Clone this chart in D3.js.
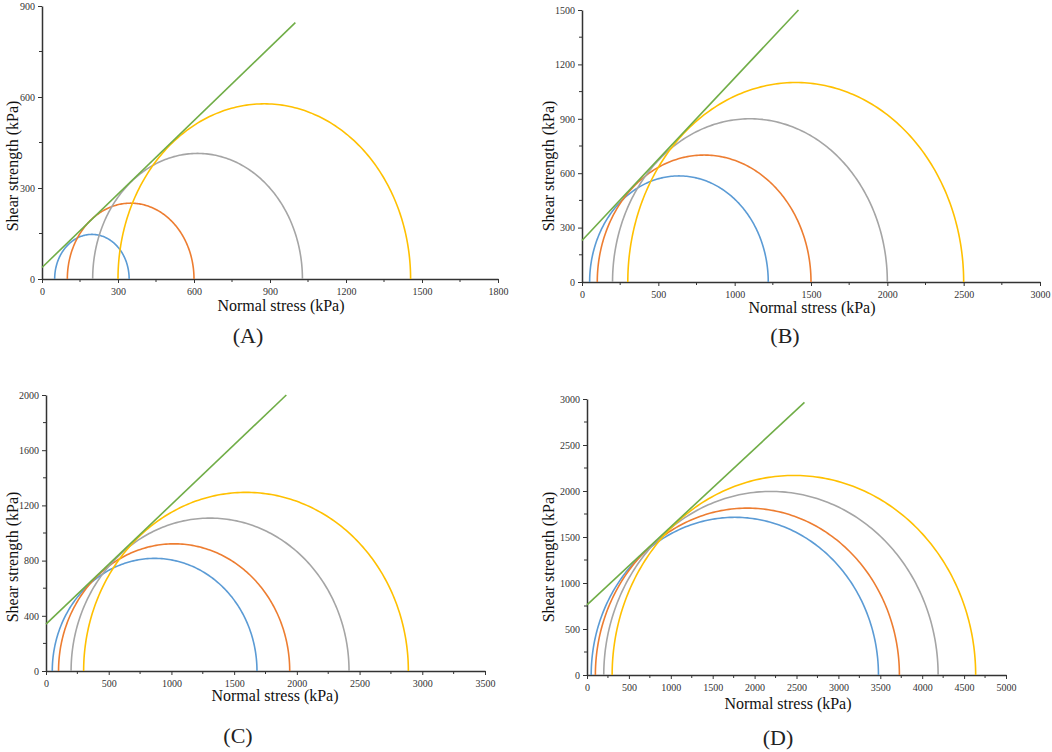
<!DOCTYPE html>
<html>
<head>
<meta charset="utf-8">
<script src="https://cdn.jsdelivr.net/npm/d3@7"></script>
<style>
  body { margin: 0; background: #fff; }
  svg { display: block; }
</style>
</head>
<body>
<svg id="chart" width="1052" height="752"></svg>
<script>
// Mohr circles: minor / major principal stress (kPa) for each of the four tests
const circleColors = ["#5B9BD5", "#ED7D31", "#A5A5A5", "#FFC000"];
const envelopeColor = "#70AD47";
const serif = "'Liberation Serif', 'Times New Roman', serif";

const sigma3A = [50, 100, 200, 300];
const sigma1A = [344, 600, 1028, 1455];
const envelopeA = [[0, 38], [1000, 845]];

const sigma3B = [50, 100, 200, 300];
const sigma1B = [1220, 1500, 2000, 2500];
const envelopeB = [[0, 229], [1418, 1500]];

const sigma3C = [50, 100, 200, 300];
const sigma1C = [1682, 1943, 2416, 2889];
const envelopeC = [[0, 340], [1916, 2000]];

const sigma3D = [50, 100, 200, 300];
const sigma1D = [3478, 3728, 4190, 4638];
const envelopeD = [[0, 763], [2595, 2963]];

// tick labels of each panel
const xTicksA = [0, 300, 600, 900, 1200, 1500, 1800];
const yTicksA = [0, 300, 600, 900];
const xTicksB = [0, 500, 1000, 1500, 2000, 2500, 3000];
const yTicksB = [0, 300, 600, 900, 1200, 1500];
const xTicksC = [0, 500, 1000, 1500, 2000, 2500, 3000, 3500];
const yTicksC = [0, 400, 800, 1200, 1600, 2000];
const xTicksD = [0, 500, 1000, 1500, 2000, 2500, 3000, 3500, 4000, 4500, 5000];
const yTicksD = [0, 500, 1000, 1500, 2000, 2500, 3000];

const panels = [
    {label: "(A)", s3: sigma3A, s1: sigma1A, env: envelopeA, xt: xTicksA, yt: yTicksA,
     left: 42, right: 498, top: 6, bottom: 279,
     titleX: 281, titleY: 311, yTitleX: 12, yTitleY: 166, labelX: 248, labelY: 343},
    {label: "(B)", s3: sigma3B, s1: sigma1B, env: envelopeB, xt: xTicksB, yt: yTicksB,
     left: 582, right: 1040, top: 10, bottom: 282,
     titleX: 812, titleY: 313, yTitleX: 548, yTitleY: 166, labelX: 785, labelY: 343},
    {label: "(C)", s3: sigma3C, s1: sigma1C, env: envelopeC, xt: xTicksC, yt: yTicksC,
     left: 46, right: 485, top: 395, bottom: 671,
     titleX: 275, titleY: 701, yTitleX: 12, yTitleY: 557, labelX: 238, labelY: 743},
    {label: "(D)", s3: sigma3D, s1: sigma1D, env: envelopeD, xt: xTicksD, yt: yTicksD,
     left: 587, right: 1006, top: 399, bottom: 675,
     titleX: 788, titleY: 709, yTitleX: 548, yTitleY: 557, labelX: 778, labelY: 745}
];

const svg = d3.select("#chart");

panels.forEach(p => {
    let g = svg.append("g");
    let x = d3.scaleLinear().domain([0, d3.max(p.xt)]).range([p.left, p.right]);
    let y = d3.scaleLinear().domain([0, d3.max(p.yt)]).range([p.bottom, p.top]);

    // minor ticks halfway between the labelled ones
    let xStep = p.xt[1] - p.xt[0];
    let yStep = p.yt[1] - p.yt[0];
    let xMinor = p.xt.slice(0, -1).map(v => v + xStep / 2);
    let yMinor = p.yt.slice(0, -1).map(v => v + yStep / 2);

    let xAxis = d3.axisBottom(x).tickValues(p.xt).tickFormat(d3.format("d")).tickSize(4).tickSizeOuter(0);
    let yAxis = d3.axisLeft(y).tickValues(p.yt).tickFormat(d3.format("d")).tickSize(4).tickSizeOuter(0);

    let gx = g.append("g").attr("transform", `translate(0,${p.bottom})`).call(xAxis);
    let gy = g.append("g").attr("transform", `translate(${p.left},0)`).call(yAxis);
    [gx, gy].forEach(a => {
        a.attr("font-family", serif).attr("font-size", 10);
        a.select(".domain").attr("stroke", "#333").attr("stroke-width", 1.5);
        a.selectAll(".tick line").attr("stroke", "#333").attr("stroke-width", 1);
        a.selectAll(".tick text").attr("fill", "#333");
    });
    gx.selectAll(".tick text").attr("dy", "0.85em");

    g.append("g").selectAll("line").data(xMinor).join("line")
        .attr("x1", d => x(d)).attr("x2", d => x(d))
        .attr("y1", p.bottom).attr("y2", p.bottom + 3)
        .attr("stroke", "#333");
    g.append("g").selectAll("line").data(yMinor).join("line")
        .attr("y1", d => y(d)).attr("y2", d => y(d))
        .attr("x1", p.left).attr("x2", p.left - 3)
        .attr("stroke", "#333");

    // Mohr semicircles
    let circles = p.s3.map((s3, i) => ({c: (s3 + p.s1[i]) / 2, r: (p.s1[i] - s3) / 2, color: circleColors[i]}));
    let angles = d3.range(0, 181, 1).map(a => a * Math.PI / 180);
    let line = d3.line().x(d => x(d[0])).y(d => y(d[1]));
    g.append("g").selectAll("path").data(circles).join("path")
        .attr("d", d => line(angles.map(t => [d.c - d.r * Math.cos(t), d.r * Math.sin(t)])))
        .attr("fill", "none")
        .attr("stroke", d => d.color)
        .attr("stroke-width", 1.6);

    // failure envelope
    g.append("path")
        .attr("d", line(p.env))
        .attr("fill", "none")
        .attr("stroke", envelopeColor)
        .attr("stroke-width", 1.6);

    g.append("text")
        .attr("x", p.titleX).attr("y", p.titleY)
        .attr("text-anchor", "middle")
        .attr("font-family", serif).attr("font-size", 16).attr("fill", "#111")
        .text("Normal stress (kPa)");
    g.append("text")
        .attr("transform", `translate(${p.yTitleX},${p.yTitleY}) rotate(-90)`)
        .attr("text-anchor", "middle")
        .attr("dy", "0.35em")
        .attr("font-family", serif).attr("font-size", 16).attr("fill", "#111")
        .text("Shear strength (kPa)");
    g.append("text")
        .attr("x", p.labelX).attr("y", p.labelY)
        .attr("text-anchor", "middle")
        .attr("font-family", serif).attr("font-size", 22).attr("fill", "#222")
        .text(p.label);
});
</script>
</body>
</html>
